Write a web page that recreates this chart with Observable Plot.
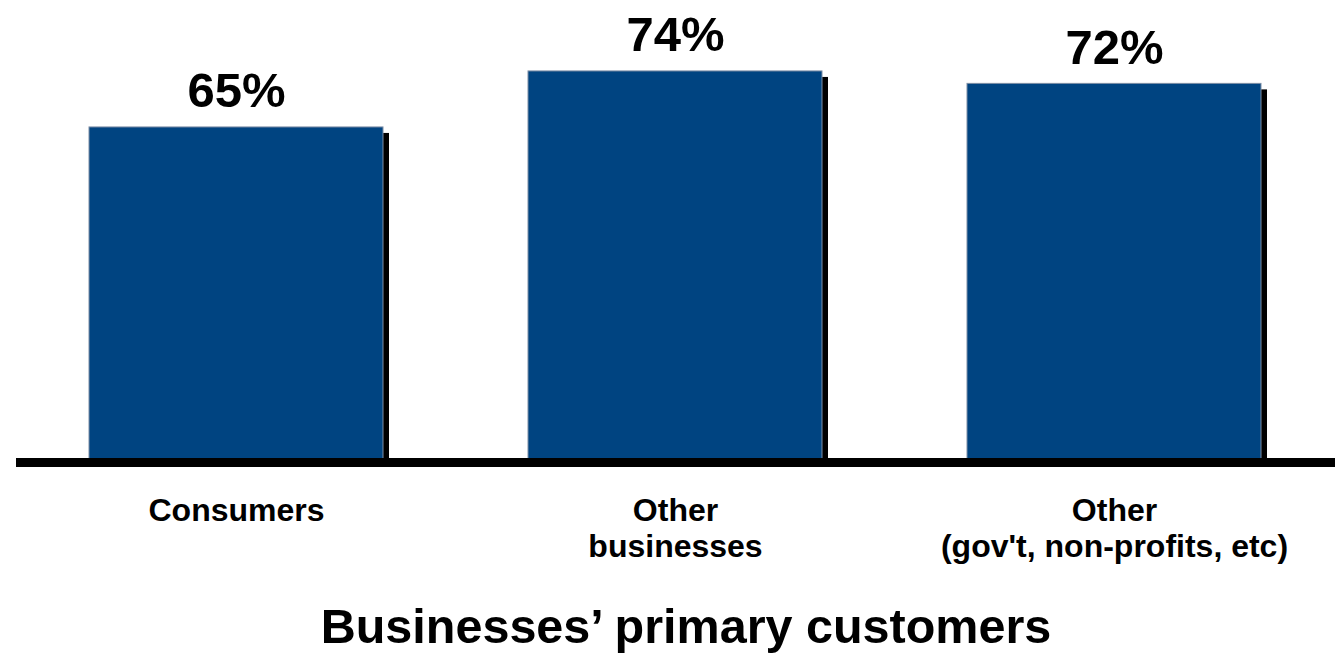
<!DOCTYPE html>
<html>
<head>
<meta charset="utf-8">
<script src="https://cdn.jsdelivr.net/npm/d3@7"></script>
<script src="https://cdn.jsdelivr.net/npm/@observablehq/plot@0.6"></script>
<style>
  html, body { margin: 0; padding: 0; background: #fff; }
  #chart svg { display: block; }
</style>
</head>
<body>
<div id="chart"></div>
<script>
const categories = ["Consumers", "Other\nbusinesses", "Other\n(gov't, non-profits, etc)"];
const values = [65, 74, 72];
const valueLabels = ["65%", "74%", "72%"];
const title = "Businesses’ primary customers";
const yDomain = [11.8, 85.4];

const data = categories.map((c, i) => ({category: c, value: values[i], label: valueLabels[i]}));

const font = "'Liberation Sans', Arial, Helvetica, sans-serif";

const chart = Plot.plot({
  width: 1335,
  height: 653,
  marginLeft: 16,
  marginRight: 0,
  marginTop: 0,
  marginBottom: 195,
  style: {fontFamily: font, background: "#fff"},
  x: {domain: categories, paddingInner: 0.33, paddingOuter: 0.165, axis: null},
  y: {domain: yDomain, axis: null},
  marks: [
    Plot.barY(data, {x: "category", y1: 0, y2: "value", fill: "#000", dx: 6, dy: 6, clip: true}),
    Plot.barY(data, {x: "category", y1: 0, y2: "value", fill: "#004481", stroke: "#7d8ea5", strokeWidth: 1, clip: true}),
    Plot.ruleY([yDomain[0]], {stroke: "#000", strokeWidth: 9, dy: 4}),
    Plot.text(data, {x: "category", y: "value", text: "label", lineAnchor: "bottom", dy: -20, fontSize: 49, fontWeight: "bold", fill: "#000", style: "letter-spacing: 1px"}),
    Plot.text(data, {x: "category", text: "category", frameAnchor: "bottom", lineAnchor: "top", dy: 37, fontSize: 32, fontWeight: "bold", lineHeight: 1.12, fill: "#000"}),
    Plot.text([title], {text: d => d, frameAnchor: "bottom", lineAnchor: "bottom", dy: 184, dx: 10, fontSize: 48.5, fontWeight: "bold", fill: "#000"})
  ]
});
document.getElementById("chart").appendChild(chart);
</script>
</body>
</html>
